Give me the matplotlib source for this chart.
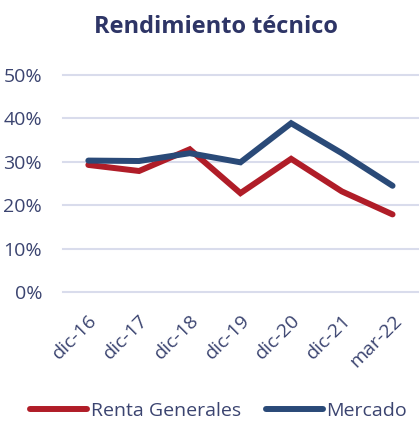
import matplotlib
matplotlib.use("Agg")
import matplotlib.pyplot as plt
from matplotlib.ticker import FuncFormatter

categories = ["dic-16", "dic-17", "dic-18", "dic-19", "dic-20", "dic-21", "mar-22"]
renta_generales = [0.293, 0.279, 0.329, 0.228, 0.307, 0.232, 0.179]
mercado = [0.303, 0.302, 0.320, 0.299, 0.389, 0.320, 0.245]
yticks = [0, 0.1, 0.2, 0.3, 0.4, 0.5]

plt.rcParams['font.family'] = ['Open Sans', 'DejaVu Sans']
text_color = "#3B4470"
title_color = "#2E3566"
red = "#B01D28"
blue = "#2A4A78"
grid_color = "#D9DCEC"

fig = plt.figure(figsize=(4.2, 4.24), dpi=100)
ax = fig.add_axes([0.15, 0.311, 0.845, 0.512])

x = list(range(len(categories)))
ax.plot(x, renta_generales, color=red, lw=4.3, solid_capstyle='round', solid_joinstyle='miter', label="Renta Generales", zorder=3)
ax.plot(x, mercado, color=blue, lw=4.3, solid_capstyle='round', solid_joinstyle='miter', label="Mercado", zorder=3)

ax.set_xlim(-0.5, len(categories) - 0.5)
ax.set_ylim(0, 0.5)
ax.set_yticks(yticks)
ax.yaxis.set_major_formatter(FuncFormatter(lambda v, p: f"{v*100:.0f}%"))
for yt in yticks:
    ax.axhline(yt, color=grid_color, lw=1.5, zorder=1, clip_on=False)

ax.set_xticks(x)
ax.set_xticklabels(categories, rotation=45, ha='right', rotation_mode='anchor')
ax.tick_params(axis='both', length=0, labelsize=14, colors=text_color)
ax.tick_params(axis='x', pad=14)
ax.tick_params(axis='y', pad=15)
for s in ax.spines.values():
    s.set_visible(False)

fig.text(0.513, 0.936, "Rendimiento técnico", ha='center', va='center', fontsize=17, fontweight='bold', color=title_color)

leg = fig.legend(loc='center', bbox_to_anchor=(0.521, 0.031), ncol=2, frameon=False, fontsize=14,
                 handlelength=2.9, handletextpad=0.2, columnspacing=1.3)
for t in leg.get_texts():
    t.set_color(text_color)

fig.savefig("out.png", dpi=100)
